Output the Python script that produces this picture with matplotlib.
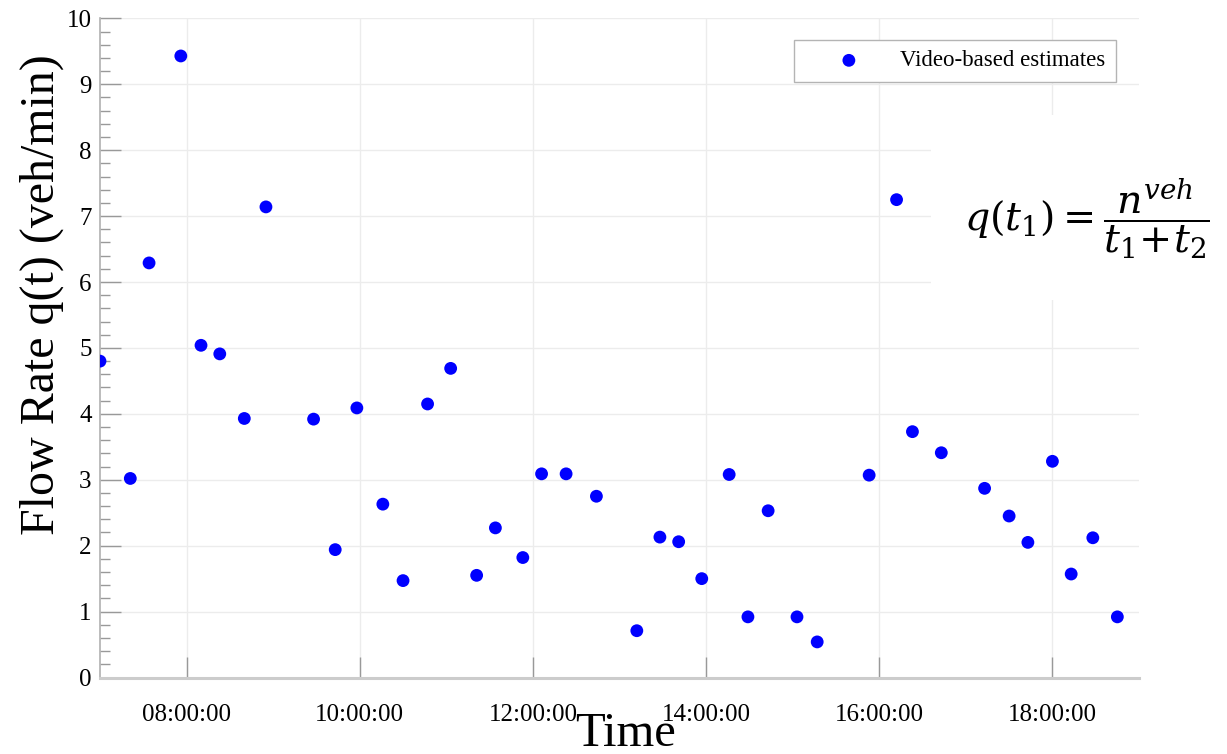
import matplotlib
matplotlib.use("Agg")
import matplotlib.pyplot as plt
import matplotlib.dates as mdates
import matplotlib.ticker as mticker
from matplotlib.patches import Rectangle
from datetime import datetime

# ---------------------------------------------------------------------------
# data
# ---------------------------------------------------------------------------
times = [
    "07:00", "07:21", "07:34", "07:56", "08:10", "08:23", "08:40", "08:55",
    "09:28", "09:43", "09:58", "10:16", "10:30", "10:47", "11:03", "11:21",
    "11:34", "11:53", "12:06", "12:23", "12:44", "13:12", "13:28", "13:41",
    "13:57", "14:16", "14:29", "14:43", "15:03", "15:17", "15:53", "16:12",
    "16:23", "16:43", "17:13", "17:30", "17:43", "18:00", "18:13", "18:28",
    "18:45",
]
flow = [
    4.80, 3.02, 6.29, 9.43, 5.04, 4.91, 3.93, 7.14,
    3.92, 1.94, 4.09, 2.63, 1.47, 4.15, 4.69, 1.55,
    2.27, 1.82, 3.09, 3.09, 2.75, 0.71, 2.13, 2.06,
    1.50, 3.08, 0.92, 2.53, 0.92, 0.54, 3.07, 7.25,
    3.73, 3.41, 2.87, 2.45, 2.05, 3.28, 1.57, 2.12,
    0.92,
]
x_start, x_end = "07:00", "19:00"
y_lim = (0, 10)
legend_label = "Video-based estimates"
formula = r"$q(t_1) = \dfrac{n^{veh}}{t_1\!+\!t_2}$"

day = "2020-01-01 "
def to_dt(s):
    return datetime.strptime(day + s, "%Y-%m-%d %H:%M")

xs = [to_dt(t) for t in times]

# ---------------------------------------------------------------------------
# figure
# ---------------------------------------------------------------------------
W, H = 1227, 754
plt.rcParams["font.family"] = ["Liberation Serif", "DejaVu Serif"]
plt.rcParams["mathtext.fontset"] = "dejavuserif"

fig = plt.figure(figsize=(W / 100, H / 100), dpi=100)
ax = fig.add_axes([100 / W, 1 - 677.5 / H, (1139 - 100) / W, (677.5 - 18.4) / H])

ax.scatter(xs, flow, s=85, color="#0000ff", edgecolors="none", zorder=5,
           label=legend_label)

ax.set_xlim(to_dt(x_start), to_dt(x_end))
ax.set_ylim(*y_lim)

ax.xaxis.set_major_locator(mdates.HourLocator(byhour=range(8, 19, 2)))
ax.xaxis.set_major_formatter(mdates.DateFormatter("%H:%M:%S"))
ax.yaxis.set_major_locator(mticker.MultipleLocator(1))
ax.yaxis.set_minor_locator(mticker.MultipleLocator(0.2))

ax.grid(True, which="major", color="#ececec", linewidth=1.0, zorder=0)
ax.set_axisbelow(True)

for side in ("top", "right"):
    ax.spines[side].set_visible(False)
ax.spines["left"].set_color("#b0b0b0")
ax.spines["left"].set_linewidth(1.2)
ax.spines["bottom"].set_color("#cccccc")
ax.spines["bottom"].set_linewidth(2.2)

ax.tick_params(axis="both", which="major", direction="in", length=15,
               width=1.0, color="#999999", labelsize=18)
ax.tick_params(axis="y", which="minor", direction="in", length=7,
               width=1.0, color="#999999")
ax.tick_params(axis="x", pad=19)
ax.tick_params(axis="y", pad=6)

# axis titles placed where they sit in the reference
fig.text(42 / W, 1 - 295 / H, "Flow Rate q(t) (veh/min)", rotation=90,
         ha="center", va="center", fontsize=34.5)
fig.text(625 / W, 1 - 746 / H, "Time", ha="center", va="baseline",
         fontsize=35)

# legend
leg = ax.legend(loc="upper right", bbox_to_anchor=(1116 / W, 1 - 40 / H),
                bbox_transform=fig.transFigure, borderaxespad=0,
                fontsize=16.5, frameon=True, fancybox=False, framealpha=1,
                edgecolor="#b4b4b4", handlelength=3.9, handletextpad=0.3,
                borderpad=0.45, markerscale=1.0)
leg.get_frame().set_linewidth(1.0)

# white panel with the formula over the grid
fig.add_artist(Rectangle((931 / W, 1 - 300 / H), (W - 931) / W, (300 - 115) / H,
                         transform=fig.transFigure, facecolor="white",
                         edgecolor="none", zorder=3))
fig.text(1087 / W, 1 - 219 / H, formula, ha="center", va="center",
         fontsize=28.5, zorder=4)

fig.savefig("out.png", dpi=100, facecolor="white")
